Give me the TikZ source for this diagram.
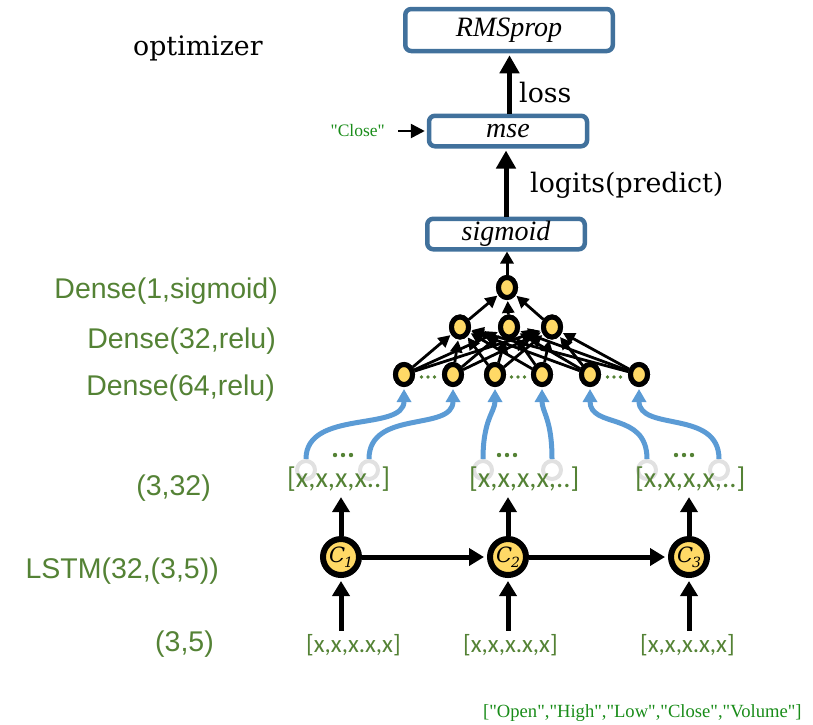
\documentclass[tikz,border=0pt]{standalone}
\usepackage{fontspec}
\setmainfont{Liberation Serif}
\newfontfamily\notefont{DejaVu Serif}
\newfontfamily\labelsans{Liberation Sans}
\newfontfamily\vecfont{Carlito}
\usetikzlibrary{arrows.meta,shapes.geometric}

\definecolor{lblgreen}{RGB}{84,130,53}
\definecolor{txtgreen}{RGB}{25,140,25}
\definecolor{boxblue}{RGB}{65,113,156}
\definecolor{cellyellow}{RGB}{255,217,102}
\definecolor{flowblue}{RGB}{91,155,213}
\definecolor{ringgray}{RGB}{225,225,225}

% cell name: italic C with a lowered index
\newcommand{\cellname}[1]{{\notefont\itshape\fontsize{21}{22}\selectfont C\kern-1pt\raisebox{-5pt}{\fontsize{14}{15}\selectfont #1}}}

\begin{document}
\begin{tikzpicture}[x=1pt,y=-1pt,
  stagebox/.style={draw=boxblue, line width=4.5pt, rounded corners=6pt, fill=white,
    inner sep=0pt, font=\fontsize{28}{30}\selectfont\itshape},
  bigarrow/.style={line width=5pt, -{Triangle[length=18pt,width=19pt]}, shorten >=2pt},
  thinarrow/.style={line width=2.6pt, -{Triangle[length=14pt,width=14pt]}},
  neuron/.style={ellipse, draw=black, line width=5pt, fill=cellyellow,
    minimum width=17pt, minimum height=20pt, inner sep=0pt},
  denseedge/.style={line width=2.8pt, -{Triangle[length=12pt,width=12pt]}, shorten >=1pt},
  cell/.style={circle, draw=black, line width=6pt, fill=cellyellow,
    minimum size=36pt, inner sep=0pt},
  cellarrow/.style={line width=5pt, -{Triangle[length=15pt,width=17pt]}},
  ring/.style={circle, draw=ringgray, line width=4pt, minimum size=18pt, inner sep=0pt},
  flow/.style={draw=flowblue, line width=5pt, -{Triangle[length=13pt,width=14pt]}, shorten >=2pt},
  layerlabel/.style={anchor=base east, text=lblgreen, inner sep=0pt,
    font=\labelsans\fontsize{28.5}{30}\selectfont},
  note/.style={anchor=base west, inner sep=0pt, font=\notefont\fontsize{26.8}{28}\selectfont},
  vecbig/.style={anchor=base west, text=lblgreen, inner sep=0pt,
    font=\vecfont\fontsize{28.6}{30}\selectfont},
  vecsmall/.style={anchor=base west, text=lblgreen, inner sep=3pt,
    font=\vecfont\fontsize{25}{27}\selectfont},
  dot/.style={circle, fill=lblgreen, inner sep=0pt}
]
\useasboundingbox (0,0) rectangle (813,724);

% ---- training stages ----
\node[stagebox, minimum width=207.5pt, minimum height=42pt] (rms) at (509,30) {RMSprop};
\node[stagebox, minimum width=158pt, minimum height=30.5pt] (mse) at (508,131) {mse};
\node[stagebox, minimum width=157.5pt, minimum height=30.5pt] (sig) at (506,234) {sigmoid};

\draw[bigarrow] ([xshift=1.5pt]mse.north) -- ([xshift=1.5pt]mse.north |- rms.south);
\draw[bigarrow] (sig.north) -- (sig.north |- mse.south);

\node[note] (optlbl) at (133,55) {optimizer};
\node[note] (losslbl) at (519,102) {loss};
\node[note] (logitlbl) at (530,192) {logits(predict)};

\node[anchor=east, inner sep=0pt, text=txtgreen, font=\fontsize{17.5}{19}\selectfont]
  (close) at (385,131) {\textquotedbl Close\textquotedbl};
\draw[thinarrow, shorten <=13pt, shorten >=2pt] (close.east) -- (mse.west);

% ---- dense layers ----
\node[neuron] (d) at (507,287.5) {};
\node[neuron] (m1) at (460,327) {};
\node[neuron] (m2) at (509,327) {};
\node[neuron] (m3) at (552,327) {};
\foreach \i/\x in {1/404,2/453,3/495,4/542,5/590,6/639}
  \node[neuron] (b\i) at (\x,374.5) {};

\foreach \i in {1,...,6}
  \foreach \j in {1,2,3}
    \draw[denseedge] (b\i) -- (m\j);
\foreach \j in {1,2,3}
  \draw[denseedge] (m\j) -- (d);
\draw[line width=3pt, -{Triangle[length=12pt,width=13pt]}] (d) -- (d |- sig.south);

% redraw the neurons over the edges
\node[neuron] at (d) {};
\foreach \j in {1,2,3} \node[neuron] at (m\j) {};
\foreach \i in {1,...,6} \node[neuron] at (b\i) {};

\foreach \x in {428,518,614}
  \foreach \k in {-6.5,0,6.5}
    \node[dot, minimum size=3.6pt] at (\x+\k,377) {};

\node[layerlabel] (l1) at (278,298) {Dense(1,sigmoid)};
\node[layerlabel] (l2) at (276,348) {Dense(32,relu)};
\node[layerlabel] (l3) at (275,395) {Dense(64,relu)};
\node[layerlabel] (l4) at (211,495) {(3,32)};
\node[layerlabel] (l5) at (219,578) {LSTM(32,(3,5))};
\node[layerlabel] (l6) at (214,651) {(3,5)};

% ---- LSTM outputs ----
\foreach \i/\x in {1/306,2/369,3/483,4/552,5/647,6/719}
  \node[ring] (r\i) at (\x,470) {};

\node[vecbig] (v1) at (287,487) {[x,x,x,x..]};
\node[vecbig] (v2) at (469,487) {[x,x,x,x,..]};
\node[vecbig] (v3) at (635,487) {[x,x,x,x,..]};

\foreach \x in {343,507,684}
  \foreach \k in {-8,0,8}
    \node[dot, minimum size=4.4pt] at (\x+\k,455) {};

\draw[flow] (r1.north) .. controls +(0,-50) and +(0,45) .. (b1.south);
\draw[flow] (r2.north) .. controls +(0,-50) and +(0,45) .. (b2.south);
\draw[flow] (r3.north) .. controls +(0,-40) and +(0,25) .. (b3.south);
\draw[flow] (r4.north) .. controls +(0,-40) and +(0,25) .. (b4.south);
\draw[flow] (r5.north) .. controls +(0,-48) and +(0,42) .. (b5.south);
\draw[flow] (r6.north) .. controls +(0,-50) and +(0,45) .. (b6.south);

% ---- LSTM cells ----
\node[cell] (c1) at (341,557) {\cellname{1}};
\node[cell] (c2) at (508,557) {\cellname{2}};
\node[cell] (c3) at (689,557) {\cellname{3}};

\draw[cellarrow, shorten >=3pt] (c1) -- (c2);
\draw[cellarrow, shorten >=3pt] (c2) -- (c3);

\node[vecsmall] (i1) at (303,652) {[x,x,x.x,x]};
\node[vecsmall] (i2) at (460,652) {[x,x,x.x,x]};
\node[vecsmall] (i3) at (637,652) {[x,x,x.x,x]};

\draw[cellarrow, shorten >=3pt] (c1 |- i1.north) -- (c1.south);
\draw[cellarrow, shorten >=3pt] (c2 |- i2.north) -- (c2.south);
\draw[cellarrow, shorten >=3pt] (c3 |- i3.north) -- (c3.south);

\draw[cellarrow, shorten >=6pt] (c1.north) -- (c1 |- v1.south);
\draw[cellarrow, shorten >=6pt] (c2.north) -- (c2 |- v2.south);
\draw[cellarrow, shorten >=6pt] (c3.north) -- (c3 |- v3.south);

\node[anchor=base west, inner sep=0pt, text=txtgreen, font=\fontsize{18.6}{20}\selectfont]
  (cols) at (483,717) {[\textquotedbl Open\textquotedbl,\textquotedbl High\textquotedbl,\textquotedbl Low\textquotedbl,\textquotedbl Close\textquotedbl,\textquotedbl Volume\textquotedbl]};
\end{tikzpicture}
\end{document}
